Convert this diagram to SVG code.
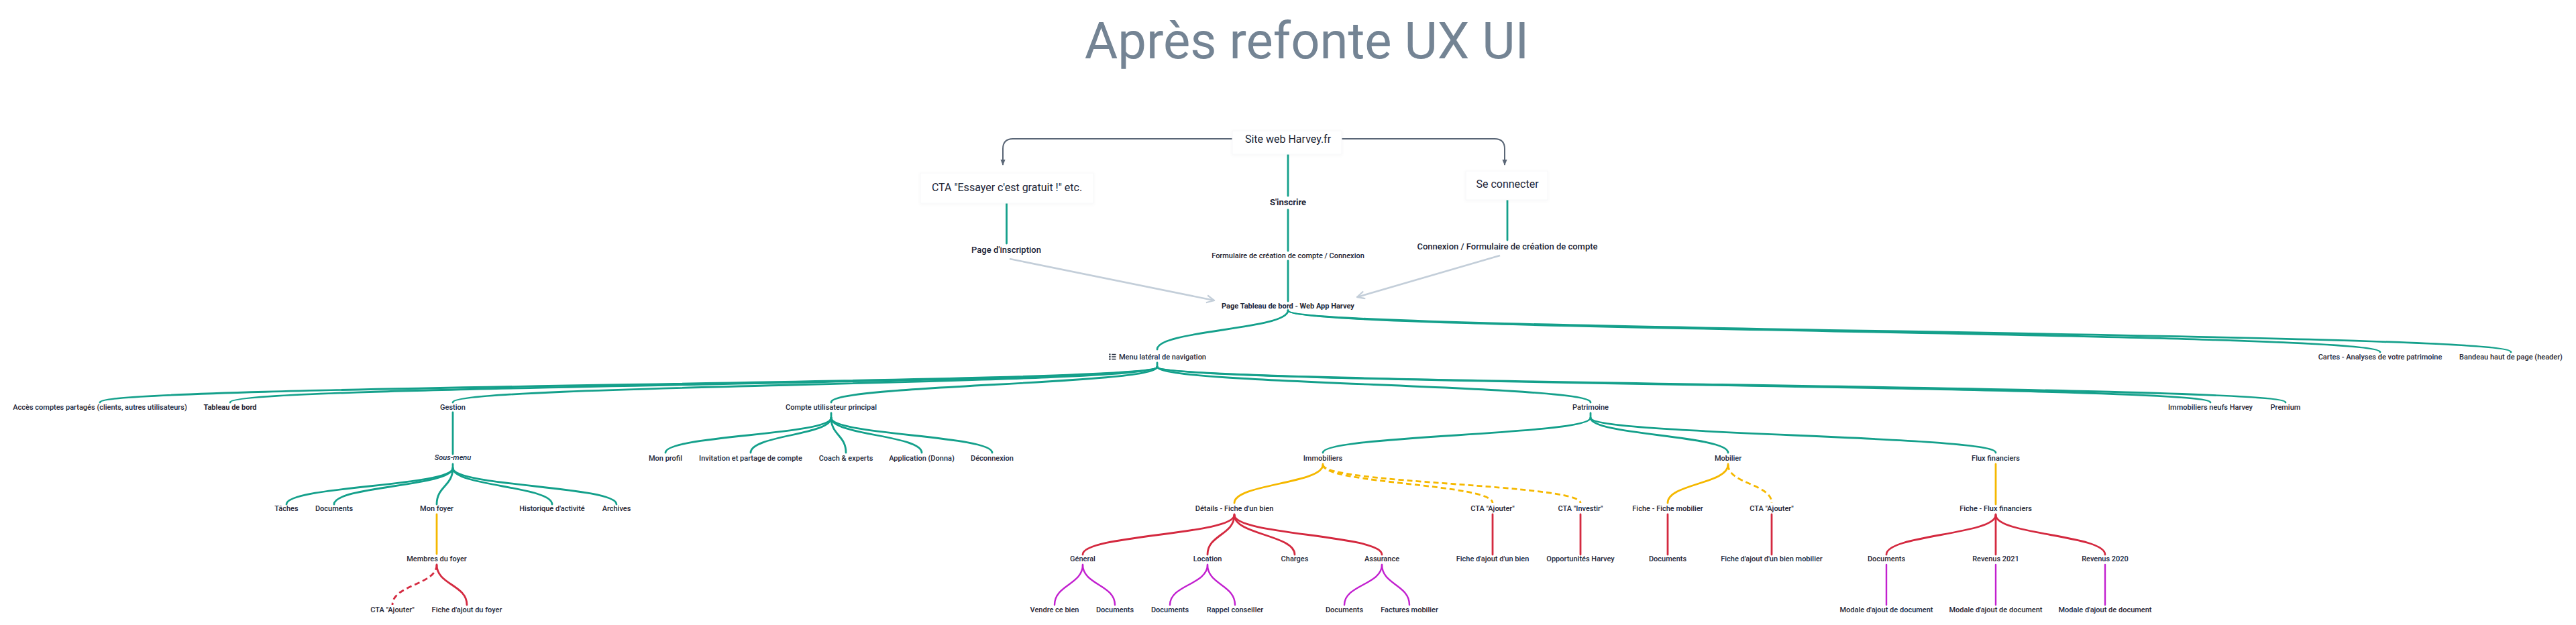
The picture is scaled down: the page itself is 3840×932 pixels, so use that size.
<svg xmlns="http://www.w3.org/2000/svg" width="3840" height="932" viewBox="0 0 3840 932">
<style>
text{font-family:Roboto,"Liberation Sans",sans-serif;fill:#1c2536;text-anchor:middle;font-weight:500}
.t{font-size:76px;fill:#748494;font-weight:400}
.l{font-size:16px;font-weight:400}
.m{font-size:13px}
.s{font-size:11px}
.b{font-weight:700}
.i{font-style:italic}
.c{fill:none;stroke-width:2.8;stroke-linecap:round}
.g{stroke:#14a08b}
.y{stroke:#f5b800}
.r{stroke:#d42a40}
.p{stroke:#c21fcf;stroke-width:2.4}
.d{stroke-dasharray:8 5;stroke-linecap:butt}
.box{fill:#fff;stroke:#f7f8f9;stroke-width:1}
</style>
<defs>
<filter id="sh" x="-10%" y="-20%" width="120%" height="150%"><feDropShadow dx="0" dy="1" stdDeviation="2.5" flood-color="#000" flood-opacity="0.035"/></filter>
<marker id="ad" viewBox="0 0 10 10" refX="9" refY="5" markerWidth="9" markerHeight="9" markerUnits="userSpaceOnUse" orient="auto"><path d="M0,1 L10,5 L0,9 z" fill="#5a6676"/></marker>
<marker id="ag" viewBox="0 0 10 10" refX="9" refY="5" markerWidth="14" markerHeight="14" markerUnits="userSpaceOnUse" orient="auto"><path d="M1,1 L9,5 L1,9" fill="none" stroke="#c3ced9" stroke-width="1.6"/></marker>
</defs>
<rect width="3840" height="932" fill="#fff"/>
<text class="t" x="1948" y="87">Après refonte UX UI</text>

<g id="connectors">
<path d="M1837 207 H1510 Q1495 207 1495 222 V246" fill="none" stroke="#5a6676" stroke-width="2" marker-end="url(#ad)"/>
<path d="M2000 207 H2228 Q2243 207 2243 222 V246" fill="none" stroke="#5a6676" stroke-width="2" marker-end="url(#ad)"/>
<path d="M1505 386 L1810 448" fill="none" stroke="#c3ced9" stroke-width="2.6" marker-end="url(#ag)"/>
<path d="M2236 381 L2023 443" fill="none" stroke="#c3ced9" stroke-width="2.6" marker-end="url(#ag)"/>
<path class="c g" d="M1920 230 V292"/>
<path class="c g" d="M1920 313 V374"/>
<path class="c g" d="M1920 389 V449"/>
<path class="c g" d="M1500.5 302 V363"/>
<path class="c g" d="M2247 297 V358"/>
<path class="c g" d="M1920 463 C1920 492 1725 492 1725 521"/>
<path class="c g" d="M1920 463 C1920 494 3548 494 3548 525"/>
<path class="c g" d="M1920 463 C1920 494 3743 494 3743 525"/>
<path class="c g" d="M1725 541 V547 C1725 573.5 149 573.5 149 600"/>
<path class="c g" d="M1725 547 C1725 573.5 343 573.5 343 600"/>
<path class="c g" d="M1725 547 C1725 573.5 675 573.5 675 600"/>
<path class="c g" d="M1725 547 C1725 573.5 1239 573.5 1239 600"/>
<path class="c g" d="M1725 547 C1725 573.5 2371 573.5 2371 600"/>
<path class="c g" d="M1725 547 C1725 573.5 3295 573.5 3295 600"/>
<path class="c g" d="M1725 547 C1725 573.5 3407 573.5 3407 600"/>
<path class="c g" d="M675 615 V677"/>
<path class="c g" d="M675 692 V698 C675 725 427 725 427 752"/>
<path class="c g" d="M675 698 C675 725 498 725 498 752"/>
<path class="c g" d="M675 698 C675 725 651 725 651 752"/>
<path class="c g" d="M675 698 C675 725 823 725 823 752"/>
<path class="c g" d="M675 698 C675 725 919 725 919 752"/>
<path class="c g" d="M1239 616 V623 C1239 649 992 649 992 675"/>
<path class="c g" d="M1239 623 C1239 649 1119 649 1119 675"/>
<path class="c g" d="M1239 623 C1239 649 1261 649 1261 675"/>
<path class="c g" d="M1239 623 C1239 649 1374 649 1374 675"/>
<path class="c g" d="M1239 623 C1239 649 1479 649 1479 675"/>
<path class="c g" d="M2371 616 V623 C2371 649 1972 649 1972 675"/>
<path class="c g" d="M2371 623 C2371 649 2576 649 2576 675"/>
<path class="c g" d="M2371 623 C2371 649 2975 649 2975 675"/>
<path class="c y" d="M651 767 V826"/>
<path class="c y" d="M1972 692 V693 C1972 721.5 1840 721.5 1840 750"/>
<path class="c y d" d="M1972 693 C1972 721.5 2225 721.5 2225 750"/>
<path class="c y d" d="M1972 693 C1972 721.5 2356 721.5 2356 750"/>
<path class="c y" d="M2576 692 V693 C2576 721.5 2486 721.5 2486 750"/>
<path class="c y d" d="M2576 693 C2576 721.5 2641 721.5 2641 750"/>
<path class="c y" d="M2975 692 V752"/>
<path class="c r d" d="M651 842 C651 872 585 872 585 902"/>
<path class="c r" d="M651 842 C651 872 696 872 696 902"/>
<path class="c r" d="M1840 767 V768 C1840 797.5 1614 797.5 1614 827"/>
<path class="c r" d="M1840 768 C1840 797.5 1800 797.5 1800 827"/>
<path class="c r" d="M1840 768 C1840 797.5 1930 797.5 1930 827"/>
<path class="c r" d="M1840 768 C1840 797.5 2060 797.5 2060 827"/>
<path class="c r" d="M2225 767 V827"/>
<path class="c r" d="M2356 767 V827"/>
<path class="c r" d="M2486 767 V827"/>
<path class="c r" d="M2641 767 V827"/>
<path class="c r" d="M2975 767 V768 C2975 797.5 2812 797.5 2812 827"/>
<path class="c r" d="M2975 768 V827"/>
<path class="c r" d="M2975 768 C2975 797.5 3138 797.5 3138 827"/>
<path class="c p" d="M1614 842 C1614 872 1572 872 1572 902"/>
<path class="c p" d="M1614 842 C1614 872 1662 872 1662 902"/>
<path class="c p" d="M1800 842 C1800 872 1744 872 1744 902"/>
<path class="c p" d="M1800 842 C1800 872 1841 872 1841 902"/>
<path class="c p" d="M2060 842 C2060 872 2004 872 2004 902"/>
<path class="c p" d="M2060 842 C2060 872 2101 872 2101 902"/>
<path class="c p" d="M2812 842 V902"/>
<path class="c p" d="M2975 842 V902"/>
<path class="c p" d="M3138 842 V902"/>
</g>

<g id="n-site"><rect class="box" filter="url(#sh)" x="1837" y="195" width="163" height="35"/><text class="l" x="1920" y="213">Site web Harvey.fr</text></g>
<g id="n-cta"><rect class="box" filter="url(#sh)" x="1372" y="258" width="258" height="45"/><text class="l" x="1501" y="285">CTA "Essayer c'est gratuit !" etc.</text></g>
<g id="n-seconnecter"><rect class="box" filter="url(#sh)" x="2185" y="255" width="122" height="43"/><text class="l" x="2247" y="280">Se connecter</text></g>
<g id="n-sinscrire"><text class="m b" x="1920" y="306">S'inscrire</text></g>
<g id="n-formulaire"><text class="s" x="1920" y="385">Formulaire de création de compte / Connexion</text></g>
<g id="n-pageinscription"><text class="m" x="1500" y="377">Page d'inscription</text></g>
<g id="n-connexion"><text class="m" x="2247" y="372">Connexion / Formulaire de création de compte</text></g>
<g id="n-pagetableau"><text class="s b" x="1920" y="460">Page Tableau de bord - Web App Harvey</text></g>
<g id="n-menu"><g fill="#1c2536"><rect x="1653.3" y="527.5" width="2.2" height="2.2"/><rect x="1653.3" y="531" width="2.2" height="2.2"/><rect x="1653.3" y="534.5" width="2.2" height="2.2"/><rect x="1657.3" y="527.8" width="6.2" height="1.5"/><rect x="1657.3" y="531.3" width="6.2" height="1.5"/><rect x="1657.3" y="534.8" width="6.2" height="1.5"/></g><text class="s" x="1668" y="536" style="text-anchor:start">Menu latéral de navigation</text></g>
<g id="n-cartes"><text class="s" x="3548" y="536">Cartes - Analyses de votre patrimoine</text></g>
<g id="n-bandeau"><text class="s" x="3743" y="536">Bandeau haut de page (header)</text></g>
<g id="n-acces"><text class="s" x="149" y="611">Accès comptes partagés (clients, autres utilisateurs)</text></g>
<g id="n-tableaudebord"><text class="s b" x="343" y="611">Tableau de bord</text></g>
<g id="n-gestion"><text class="s" x="675" y="611">Gestion</text></g>
<g id="n-compte"><text class="s" x="1239" y="611">Compte utilisateur principal</text></g>
<g id="n-patrimoine"><text class="s" x="2371" y="611">Patrimoine</text></g>
<g id="n-immoneufs"><text class="s" x="3295" y="611">Immobiliers neufs Harvey</text></g>
<g id="n-premium"><text class="s" x="3407" y="611">Premium</text></g>
<g id="n-sousmenu"><text class="s i" x="675" y="686">Sous-menu</text></g>
<g id="n-monprofil"><text class="s" x="992" y="687">Mon profil</text></g>
<g id="n-invitation"><text class="s" x="1119" y="687">Invitation et partage de compte</text></g>
<g id="n-coach"><text class="s" x="1261" y="687">Coach &amp; experts</text></g>
<g id="n-application"><text class="s" x="1374" y="687">Application (Donna)</text></g>
<g id="n-deconnexion"><text class="s" x="1479" y="687">Déconnexion</text></g>
<g id="n-immobiliers"><text class="s" x="1972" y="687">Immobiliers</text></g>
<g id="n-mobilier"><text class="s" x="2576" y="687">Mobilier</text></g>
<g id="n-flux"><text class="s" x="2975" y="687">Flux financiers</text></g>
<g id="n-taches"><text class="s" x="427" y="762">Tâches</text></g>
<g id="n-documents-g"><text class="s" x="498" y="762">Documents</text></g>
<g id="n-monfoyer"><text class="s" x="651" y="762">Mon foyer</text></g>
<g id="n-historique"><text class="s" x="823" y="762">Historique d'activité</text></g>
<g id="n-archives"><text class="s" x="919" y="762">Archives</text></g>
<g id="n-details"><text class="s" x="1840" y="762">Détails - Fiche d'un bien</text></g>
<g id="n-cta-ajouter-immo"><text class="s" x="2225" y="762">CTA "Ajouter"</text></g>
<g id="n-cta-investir"><text class="s" x="2356" y="762">CTA "Investir"</text></g>
<g id="n-fiche-mobilier"><text class="s" x="2486" y="762">Fiche - Fiche mobilier</text></g>
<g id="n-cta-ajouter-mob"><text class="s" x="2641" y="762">CTA "Ajouter"</text></g>
<g id="n-fiche-flux"><text class="s" x="2975" y="762">Fiche - Flux financiers</text></g>
<g id="n-membres"><text class="s" x="651" y="837">Membres du foyer</text></g>
<g id="n-general"><text class="s" x="1614" y="837">Géneral</text></g>
<g id="n-location"><text class="s" x="1800" y="837">Location</text></g>
<g id="n-charges"><text class="s" x="1930" y="837">Charges</text></g>
<g id="n-assurance"><text class="s" x="2060" y="837">Assurance</text></g>
<g id="n-fiche-ajout-bien"><text class="s" x="2225" y="837">Fiche d'ajout d'un bien</text></g>
<g id="n-opportunites"><text class="s" x="2356" y="837">Opportunités Harvey</text></g>
<g id="n-documents-mob"><text class="s" x="2486" y="837">Documents</text></g>
<g id="n-fiche-ajout-mob"><text class="s" x="2641" y="837">Fiche d'ajout d'un bien mobilier</text></g>
<g id="n-documents-flux"><text class="s" x="2812" y="837">Documents</text></g>
<g id="n-revenus2021"><text class="s" x="2975" y="837">Revenus 2021</text></g>
<g id="n-revenus2020"><text class="s" x="3138" y="837">Revenus 2020</text></g>
<g id="n-cta-ajouter-foyer"><text class="s" x="585" y="913">CTA "Ajouter"</text></g>
<g id="n-fiche-ajout-foyer"><text class="s" x="696" y="913">Fiche d'ajout du foyer</text></g>
<g id="n-vendre"><text class="s" x="1572" y="913">Vendre ce bien</text></g>
<g id="n-documents-gen"><text class="s" x="1662" y="913">Documents</text></g>
<g id="n-documents-loc"><text class="s" x="1744" y="913">Documents</text></g>
<g id="n-rappel"><text class="s" x="1841" y="913">Rappel conseiller</text></g>
<g id="n-documents-ass"><text class="s" x="2004" y="913">Documents</text></g>
<g id="n-factures"><text class="s" x="2101" y="913">Factures mobilier</text></g>
<g id="n-modale-1"><text class="s" x="2812" y="913">Modale d'ajout de document</text></g>
<g id="n-modale-2"><text class="s" x="2975" y="913">Modale d'ajout de document</text></g>
<g id="n-modale-3"><text class="s" x="3138" y="913">Modale d'ajout de document</text></g>
</svg>
